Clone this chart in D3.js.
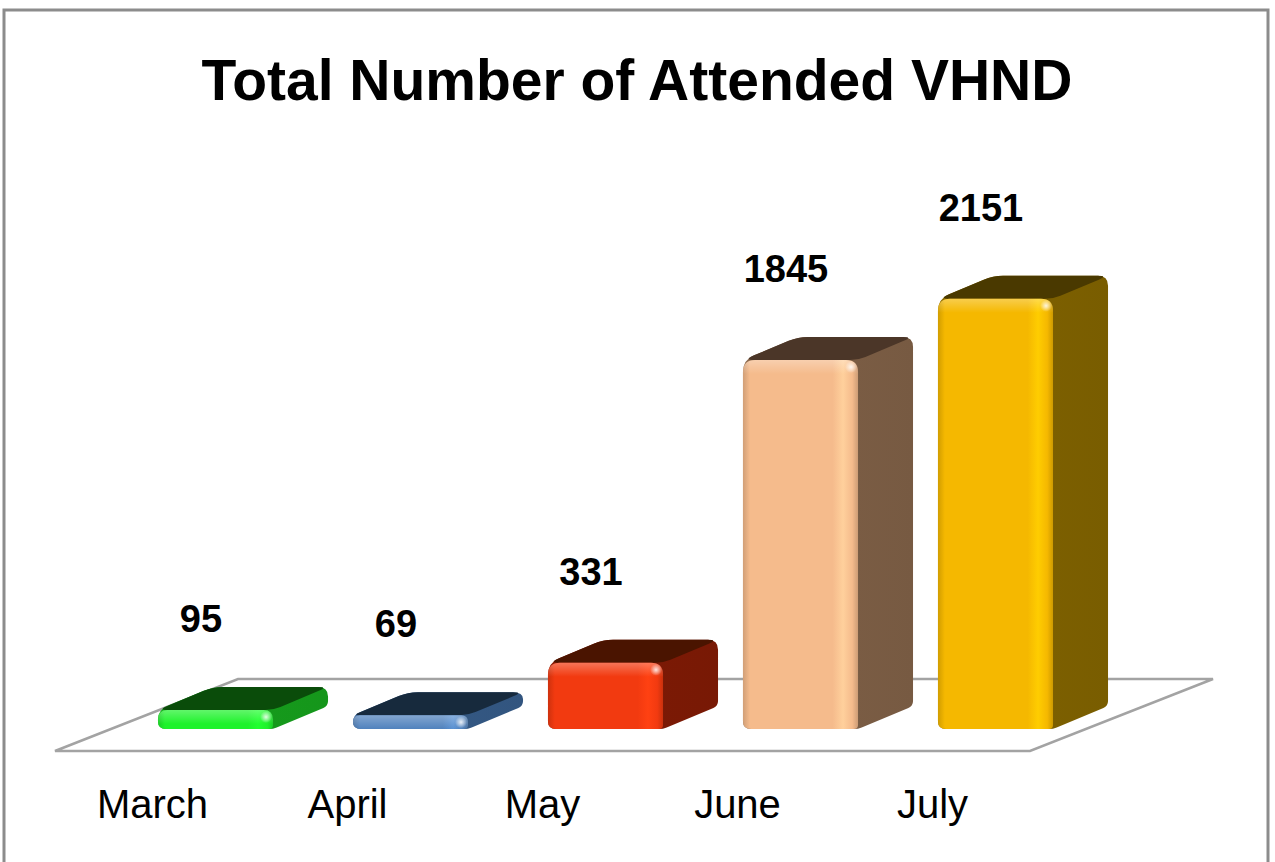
<!DOCTYPE html>
<html>
<head>
<meta charset="utf-8">
<script src="https://cdn.jsdelivr.net/npm/d3@7"></script>
<style>
body { margin: 0; background: #fff; }
text { font-family: 'Liberation Sans', Arial, sans-serif; }
</style>
</head>
<body>
<svg id="chart" width="1275" height="862"></svg>
<script>
const chartTitle = 'Total Number of Attended VHND';
const months = ['March', 'April', 'May', 'June', 'July'];
const attended = [95, 69, 331, 1845, 2151];
const frontColors = ['#1ef22b', '#4f81bd', '#f23a10', '#f5bb8c', '#f5b800'];
const sideColors = ['#169e1c', '#355a86', '#7f1a05', '#7e5f46', '#806200'];
const topColors = ['#0a4c0a', '#172a3d', '#4a1400', '#4b3628', '#4a3900'];

const svg = d3.select('#chart');
const defs = svg.append('defs');

// floor + bar geometry (3d look)
const floorFrontY = 751, floorLeft = 55, floorRight = 1030, floorDx = 183, floorDy = -72;
const barBaseY = 729, barShift = 63, depthX = 55, depthY = -23;

var x = d3.scaleBand().domain(months).range([floorLeft, floorRight]).paddingInner(0.41).paddingOuter(0.205);
var y = d3.scaleLinear().domain([0, 2500]).range([barBaseY, barBaseY - 500]);

// polygon with rounded corners, one radius per vertex
function roundedPath(pts, radii) {
    var n = pts.length, p = d3.path();
    for (var i = 0; i < n; i++) {
        var cur = pts[i], prev = pts[(i - 1 + n) % n], next = pts[(i + 1) % n];
        var d1 = Math.hypot(cur[0] - prev[0], cur[1] - prev[1]);
        var d2 = Math.hypot(next[0] - cur[0], next[1] - cur[1]);
        var r1 = Math.min(radii[i], d1 / 2), r2 = Math.min(radii[i], d2 / 2);
        var a = [cur[0] + (prev[0] - cur[0]) * r1 / d1, cur[1] + (prev[1] - cur[1]) * r1 / d1];
        var b = [cur[0] + (next[0] - cur[0]) * r2 / d2, cur[1] + (next[1] - cur[1]) * r2 / d2];
        if (i == 0) p.moveTo(a[0], a[1]); else p.lineTo(a[0], a[1]);
        p.quadraticCurveTo(cur[0], cur[1], b[0], b[1]);
    }
    p.closePath();
    return p.toString();
}

// outer frame
svg.append('rect')
    .attr('x', 4).attr('y', 10)
    .attr('width', 1264).attr('height', 880)
    .attr('fill', '#fff')
    .attr('stroke', '#8c8c8c')
    .attr('stroke-width', 3);

svg.append('text')
    .attr('x', 637).attr('y', 100)
    .attr('text-anchor', 'middle')
    .style('font-size', '57px')
    .style('font-weight', 'bold')
    .text(chartTitle);

// floor
svg.append('path')
    .attr('d', d3.line()([
        [floorLeft, floorFrontY], [floorRight, floorFrontY],
        [floorRight + floorDx, floorFrontY + floorDy], [floorLeft + floorDx, floorFrontY + floorDy]
    ]) + 'Z')
    .attr('fill', '#fff')
    .attr('stroke', '#a3a3a3')
    .attr('stroke-width', 2.5);

var data = months.map((m, i) => ({month: m, value: attended[i], i: i}));

// gradients for every bar
data.forEach(d => {
    var base = d3.color(frontColors[d.i]);
    var g = defs.append('linearGradient').attr('id', 'front' + d.i)
        .attr('x1', 0).attr('x2', 1).attr('y1', 0).attr('y2', 0);
    [[0, base.darker(0.45)], [0.06, base], [0.78, base], [0.87, base.brighter(0.3)], [0.95, base], [1, base.darker(0.5)]]
        .forEach(s => g.append('stop').attr('offset', s[0]).attr('stop-color', s[1]));
    var sb = d3.color(sideColors[d.i]);
    var gs = defs.append('linearGradient').attr('id', 'side' + d.i)
        .attr('x1', 0).attr('x2', 1).attr('y1', 0).attr('y2', 0);
    [[0, sb.brighter(0.35)], [0.18, sb], [1, sb.darker(0.15)]]
        .forEach(s => gs.append('stop').attr('offset', s[0]).attr('stop-color', s[1]));
    var yT = y(d.value);
    var gt = defs.append('linearGradient').attr('id', 'shine' + d.i)
        .attr('gradientUnits', 'userSpaceOnUse')
        .attr('x1', 0).attr('x2', 0).attr('y1', yT).attr('y2', yT + 14);
    gt.append('stop').attr('offset', 0).attr('stop-color', '#fff').attr('stop-opacity', 0.3);
    gt.append('stop').attr('offset', 1).attr('stop-color', '#fff').attr('stop-opacity', 0);
});
var spec = defs.append('radialGradient').attr('id', 'spec');
spec.append('stop').attr('offset', 0).attr('stop-color', '#fff').attr('stop-opacity', 0.85);
spec.append('stop').attr('offset', 1).attr('stop-color', '#fff').attr('stop-opacity', 0);

var bars = svg.selectAll('g.bar')
    .data(data)
    .enter()
    .append('g')
    .attr('class', 'bar');

bars.each(function(d) {
    var g = d3.select(this);
    var x0 = x(d.month) + barShift, x1 = x0 + x.bandwidth();
    var yT = y(d.value), yB = barBaseY;
    var r = Math.min(12, (yB - yT) / 2);

    // whole silhouette in side colour, then top, then front
    g.append('path')
        .attr('d', roundedPath([[x0, yB], [x0, yT], [x0 + depthX, yT + depthY], [x1 + depthX, yT + depthY],
            [x1 + depthX, yB + depthY], [x1, yB]], [8, r, 10, 10, 5, 4]))
        .attr('fill', 'url(#side' + d.i + ')');
    g.append('path')
        .attr('d', roundedPath([[x0, yT], [x0 + depthX, yT + depthY], [x1 + depthX, yT + depthY], [x1, yT]],
            [r, 10, 10, 8]))
        .attr('fill', topColors[d.i]);
    var front = roundedPath([[x0, yB], [x0, yT], [x1, yT], [x1, yB]], [8, r, r, 4]);
    g.append('path')
        .attr('d', front)
        .attr('fill', 'url(#front' + d.i + ')');
    g.append('path')
        .attr('d', front)
        .attr('fill', 'url(#shine' + d.i + ')');
    g.append('circle')
        .attr('cx', x1 - 7).attr('cy', yT + 7)
        .attr('r', 6)
        .attr('fill', 'url(#spec)');
});

// value labels
svg.selectAll('text.value')
    .data(data)
    .enter()
    .append('text')
    .attr('class', 'value')
    .attr('x', d => x(d.month) + x.bandwidth() / 2 + 48.5)
    .attr('y', d => y(d.value) - 78)
    .attr('text-anchor', 'middle')
    .style('font-size', '38px')
    .style('font-weight', 'bold')
    .text(d => d.value);

// category labels
svg.selectAll('text.cat')
    .data(months)
    .enter()
    .append('text')
    .attr('class', 'cat')
    .attr('x', m => x(m) + x.bandwidth() / 2)
    .attr('y', 818)
    .attr('text-anchor', 'middle')
    .style('font-size', '40px')
    .text(m => m);
</script>
</body>
</html>
